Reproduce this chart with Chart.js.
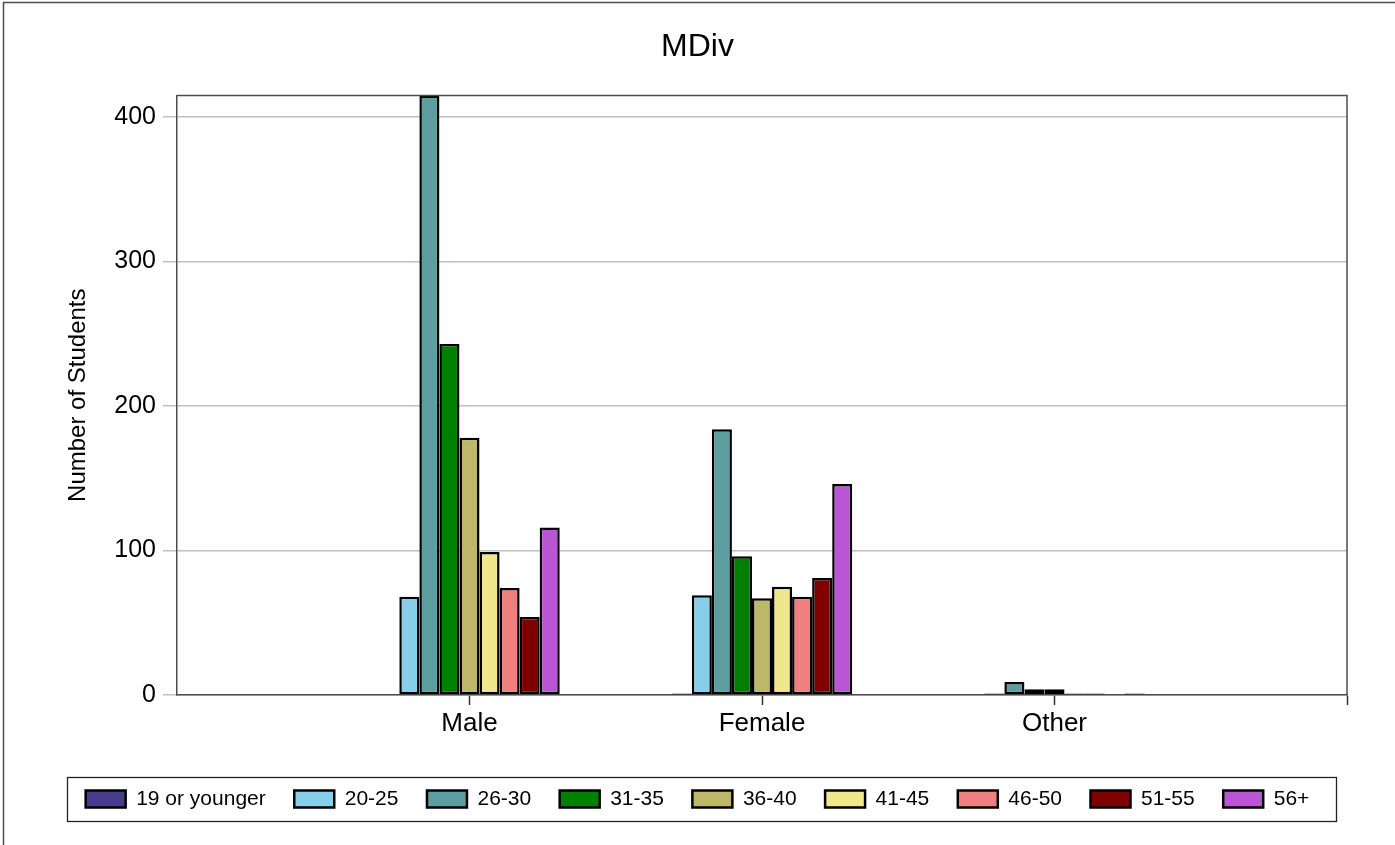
<!DOCTYPE html>
<html>
<head>
<meta charset="utf-8">
<script src="https://cdn.jsdelivr.net/npm/chart.js@4.4.1/dist/chart.umd.min.js"></script>
<style>
html,body{margin:0;padding:0;background:#fff;}
#wrap{width:1395px;height:845px;position:relative;}
</style>
</head>
<body>
<div id="wrap"><canvas id="c" width="1395" height="845"></canvas></div>
<script>
// ---- data ----
const categories = ['Male', 'Female', 'Other'];
const seriesNames = ['19 or younger', '20-25', '26-30', '31-35', '36-40', '41-45', '46-50', '51-55', '56+'];
const age19orYounger = [0, 1, 0];
const age20to25 = [68, 69, 1];
const age26to30 = [415, 184, 9];
const age31to35 = [243, 96, 4];
const age36to40 = [178, 67, 4];
const age41to45 = [99, 75, 1];
const age46to50 = [74, 68, 1];
const age51to55 = [54, 81, 0];
const age56plus = [116, 146, 1];
const yTickStep = 100;
const yMax = 415;

// ---- styling ----
const seriesColors = ['#483D8B', '#87CEEB', '#5F9EA0', '#008000', '#BDB76B', '#F0E68C', '#F08080', '#800000', '#BA55D3'];
const FONT = "'Liberation Sans', Arial, sans-serif";

const seriesValues = [age19orYounger, age20to25, age26to30, age31to35, age36to40, age41to45, age46to50, age51to55, age56plus];
// empty slot on each side of the category axis
const xLabels = [''].concat(categories, ['']);

const datasets = seriesNames.map((name, i) => ({
  label: name,
  data: [null].concat(seriesValues[i], [null]),
  backgroundColor: seriesColors[i],
  borderColor: '#000',
  borderWidth: 2.5,
  borderSkipped: false,
  categoryPercentage: 0.617,
  barPercentage: 1.0
}));

const decorPlugin = {
  id: 'decor',
  afterDraw(chart) {
    const ctx = chart.ctx;
    const a = chart.chartArea;
    ctx.save();
    ctx.strokeStyle = '#4d4d4d';
    ctx.lineWidth = 1.5;
    // plot box top + right
    ctx.beginPath();
    ctx.moveTo(a.left, a.top);
    ctx.lineTo(a.right, a.top);
    ctx.lineTo(a.right, a.bottom);
    ctx.stroke();
    // outer frame (left + top)
    ctx.beginPath();
    ctx.moveTo(3.5, chart.height);
    ctx.lineTo(3.5, 2.5);
    ctx.lineTo(chart.width, 2.5);
    ctx.stroke();
    // legend frame
    const lg = chart.legend;
    if (lg && lg.legendHitBoxes && lg.legendHitBoxes.length) {
      const hb = lg.legendHitBoxes[0];
      const cy = hb.top + hb.height / 2;
      ctx.strokeStyle = '#222';
      ctx.lineWidth = 1.3;
      ctx.strokeRect(67.5, Math.round(cy - 22) + 0.5, 1269, 44);
    }
    ctx.restore();
  }
};

Chart.defaults.color = '#000';
Chart.defaults.font.family = FONT;

new Chart(document.getElementById('c'), {
  type: 'bar',
  data: { labels: xLabels, datasets },
  plugins: [decorPlugin],
  options: {
    responsive: false,
    animation: false,
    devicePixelRatio: 1,
    layout: { padding: { left: 0, right: 0, top: 0, bottom: 25.5 } },
    plugins: {
      tooltip: { enabled: false },
      title: {
        display: true,
        text: 'MDiv',
        font: { size: 32, weight: 'normal', family: FONT },
        color: '#000',
        padding: { top: 28, bottom: 29 }
      },
      legend: {
        position: 'bottom',
        labels: {
          boxWidth: 40,
          boxHeight: 17,
          padding: 28.5,
          font: { size: 21, family: FONT },
          color: '#000',
          generateLabels(chart) {
            return chart.data.datasets.map((ds, i) => ({
              text: ds.label,
              fillStyle: ds.backgroundColor,
              strokeStyle: '#000',
              lineWidth: 2.5,
              hidden: false,
              datasetIndex: i
            }));
          }
        }
      }
    },
    scales: {
      x: {
        type: 'category',
        offset: false,
        grid: {
          offset: false,
          drawOnChartArea: false,
          drawTicks: true,
          tickLength: 10,
          tickWidth: 1.5,
          tickColor: (ctx) => (ctx.index === 0 ? 'rgba(0,0,0,0)' : '#333')
        },
        border: { display: true, color: '#4d4d4d', width: 1.5 },
        ticks: {
          font: { size: 26, family: FONT },
          color: '#000',
          padding: 3,
          autoSkip: false,
          maxRotation: 0
        },
        afterFit(scale) { scale.height = 65; }
      },
      y: {
        min: 0,
        max: yMax,
        grid: {
          color: '#c0c0c0',
          lineWidth: 1.5,
          tickLength: 14
        },
        border: { display: true, color: '#4d4d4d', width: 1.5 },
        ticks: {
          stepSize: yTickStep,
          includeBounds: false,
          font: { size: 25, family: FONT },
          color: '#000',
          padding: 7
        },
        title: {
          display: true,
          text: 'Number of Students',
          font: { size: 24, family: FONT },
          color: '#000',
          padding: { top: 64, bottom: 0 }
        },
        afterFit(scale) { scale.width = 177; }
      },
      yRightSpace: {
        position: 'right',
        display: true,
        grid: { display: false, drawTicks: false },
        border: { display: false },
        ticks: { display: false },
        afterFit(scale) { scale.width = 48; }
      }
    }
  }
});
</script>
</body>
</html>
